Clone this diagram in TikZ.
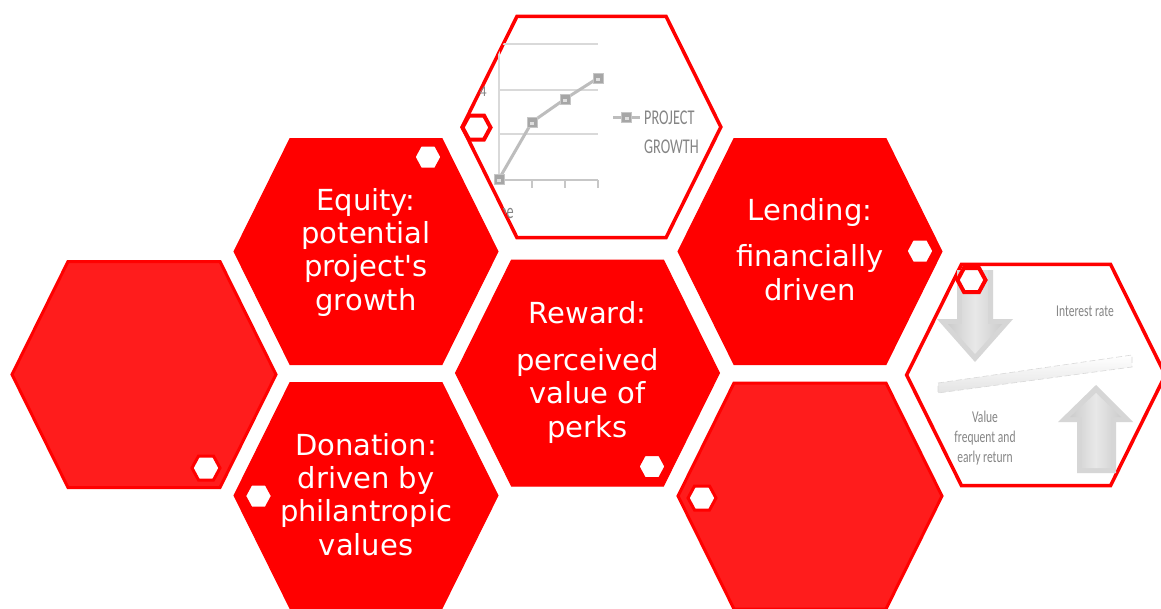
\documentclass[tikz,border=0pt]{standalone}
\usepackage{fontspec}
\setmainfont{DejaVu Sans}
\newfontfamily\chartfont{Carlito}
\definecolor{hexred}{HTML}{FF0000}
\definecolor{softred}{HTML}{FF1C1C}
\definecolor{gridgray}{HTML}{D9D9D9}
\definecolor{linegray}{HTML}{BDBDBD}
\definecolor{markgray}{HTML}{A6A6A6}
\definecolor{textgray}{HTML}{858585}
\newcommand\narrow[1]{\scalebox{0.7}[1]{#1}}
\begin{document}
\begin{tikzpicture}[x=1pt,y=-1pt,
  pics/bighex/.style={code={\path[pic actions] (-132,0) -- (-76,-113) -- (76,-113) -- (132,0) -- (76,113) -- (-76,113) -- cycle;}},
  pics/badge/.style={code={\path[pic actions] (-14,0) -- (-7.5,-12) -- (7.5,-12) -- (14,0) -- (7.5,12) -- (-7.5,12) -- cycle;}},
  solidhex/.style={fill=hexred, draw=hexred, line width=1pt},
  softhex/.style={fill=softred, draw=hexred, line width=3pt, line join=miter},
  framehex/.style={fill=white, draw=hexred, line width=3.5pt, scale=0.98},
  badgehex/.style={fill=white, draw=hexred, line width=3pt},
  % multi-line captions are placed by the baseline of their last line
  hextext/.style={text=white, align=center, anchor=base, inner sep=0pt,
    font=\fontsize{29}{33.3}\selectfont},
  charttext/.style={text=textgray, inner sep=0pt, font=\chartfont\fontsize{21}{25}\selectfont},
  notetext/.style={text=textgray, inner sep=0pt, align=center, anchor=base,
    font=\chartfont\fontsize{16.5}{20}\selectfont},
  marker/.style={fill=markgray, draw=gray!45, line width=0.6pt, minimum size=10pt, inner sep=0pt,
    path picture={\fill[gray!25] (path picture bounding box.center) ++(-2pt,-2.5pt) rectangle ++(4pt,3pt);}},
  arrowbody/.style={fill=gray!32},
  arrowface/.style={left color=gray!40, right color=gray!40, middle color=gray!18},
]
\useasboundingbox (0,0) rectangle (1161,608);
\clip (0,0) rectangle (1161,608);

% ---- red and outlined hexagons ----
\pic[softhex]  (left)    at (144,374.5) {bighex};
\pic[softhex]  (lowright) at (810,496) {bighex};
\pic[solidhex] (equity)  at (366,251.5) {bighex};
\pic[solidhex] (lending) at (810,251.5) {bighex};
\pic[solidhex] (reward)  at (587.5,373) {bighex};
\pic[solidhex] (donation) at (366,495.5) {bighex};
\pic[framehex] (chart)   at (591.5,127) {bighex};
\pic[framehex] (rate)    at (1036,375) {bighex};

% ---- growth chart inside the top hexagon ----
\begin{scope}
  \clip[shift={(591.5,127)}, scale=0.98] (-132,0) -- (-76,-113) -- (76,-113) -- (132,0) -- (76,113) -- (-76,113) -- cycle;
  \foreach \gy in {44,90,134}
    \draw[gridgray, line width=1.2pt] (499,\gy) -- (598,\gy);
  \draw[gridgray, line width=1.2pt] (499,44) -- (499,180);
  \draw[gridgray!80!gray, line width=1.2pt] (499,180) -- (598,180);
  \foreach \tx in {532,565,598}
    \draw[gridgray!80!gray, line width=1.2pt] (\tx,180) -- (\tx,188);
  \coordinate (p1) at (499,179);
  \coordinate (p2) at (532,122);
  \coordinate (p3) at (565,99);
  \coordinate (p4) at (598,78);
  \draw[linegray, line width=3pt, line join=round] (p1) -- (p2) -- (p3) -- (p4);
  \foreach \p in {p1,p2,p3,p4}
    \node[marker] (m\p) at (\p) {};
  \node[charttext, anchor=base east, font=\chartfont\fontsize{15}{18}\selectfont] (ylabel) at (487,96) {4};
  \node[charttext, anchor=base east] (xlabel) at (514,218) {\scalebox{0.68}[1]{Time}};
  \coordinate (lg1) at (613,117);
  \coordinate (lg2) at (640,117);
  \draw[linegray, line width=3pt] (lg1) -- (lg2);
  \node[marker] (lgmark) at (626.5,117) {};
  \node[charttext, anchor=base west] (legend1) at (644,124) {\scalebox{0.68}[1]{PROJECT}};
  \node[charttext, anchor=base west] (legend2) at (644,153) {\scalebox{0.68}[1]{GROWTH}};
\end{scope}

% ---- interest rate balance inside the right hexagon ----
\path[arrowbody] (957,270) -- (993,270) -- (993,319) -- (1013,319) -- (975,362) -- (937,319) -- (957,319) -- cycle;
\path[arrowface] (962,270) -- (988,270) -- (988,324) -- (1002,324) -- (975,354) -- (948,324) -- (962,324) -- cycle;
\path[arrowbody] (1077,473) -- (1077,422) -- (1058,422) -- (1096,385) -- (1133,422) -- (1116,422) -- (1116,473) -- cycle;
\path[arrowface] (1082,468) -- (1082,417) -- (1070,417) -- (1096,393) -- (1121,417) -- (1111,417) -- (1111,468) -- cycle;
\path[top color=white, bottom color=gray!22, draw=gray!30, line width=0.6pt, dash pattern=on 6pt off 3pt]
  (938,383) -- (1132,355) -- (1132,367) -- (938,393) -- cycle;
\node[notetext] (interest) at (1085,316) {\narrow{Interest rate}};
\node[notetext] (value) at (985,462) {\narrow{Value}\\\narrow{frequent and}\\\narrow{early return}};

% ---- small badges ----
\pic[badgehex] (b1) at (428,157) {badge};
\pic[badgehex, line width=4pt] (b2) at (476.5,127.5) {badge};
\pic[badgehex] (b3) at (920,251) {badge};
\pic[badgehex] (b4) at (206,468) {badge};
\pic[badgehex] (b5) at (652,466.5) {badge};
\pic[badgehex, line width=4pt] (b6) at (971.5,280) {badge};
\pic[badgehex] (b7) at (258.5,496) {badge};
\pic[badgehex] (b8) at (702,498) {badge};

% ---- captions ----
\node[hextext] (equitytext) at (366,310) {Equity:\\potential\\project\textquotesingle s\\growth};
\node[hextext] (rewardtext) at (587.5,437) {Reward:\\[13.5pt]perceived\\value of\\perks};
\node[hextext] (lendingtext) at (810,300) {Lending:\\[12.5pt]financially\\driven};
\node[hextext] (donationtext) at (366,555) {Donation:\\driven by\\philantropic\\values};
\end{tikzpicture}
\end{document}
